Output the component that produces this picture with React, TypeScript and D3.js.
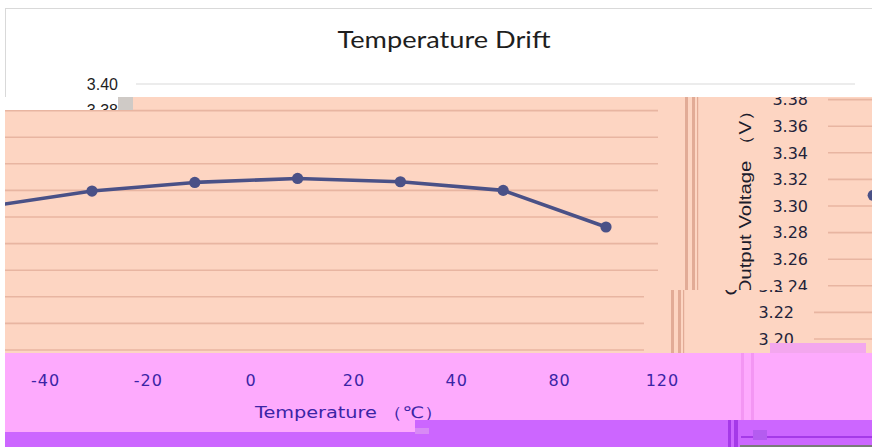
import * as d3 from 'd3';

// series
const temps = [-50, -30, -10, 10, 30, 50, 70];
const volts = [3.308, 3.3195, 3.326, 3.329, 3.3265, 3.32, 3.2925];
const voltTicks = [3.2, 3.22, 3.24, 3.26, 3.28, 3.3, 3.32, 3.34, 3.36, 3.38, 3.4];
const tempTicks = [-40, -20, 0, 20, 40, 60, 80];
const tempLabels = ['-40', '-20', '0', '20', '40', '80', '120'];

const W = 872;
const H = 447;
const SALMON = '#fdd5c2';
const GRID = '#e8b5a1';
const LINE = '#4a5187';
const PINK = '#fdaafd';
const PURPLE = '#cc66ff';
const AXIS_TXT = '#3b24a6';

const x = d3.scaleLinear().domain([-30, 70]).range([92, 606]);
const y = d3.scaleLinear().domain([3.2, 3.4]).range([350, 84]);

const line = d3
  .line<number>()
  .x((_, i) => x(temps[i]))
  .y((v) => y(v));

function Series({ dx = 0, dy = 0 }: { dx?: number; dy?: number }) {
  return (
    <g transform={`translate(${dx},${dy})`}>
      <path d={line(volts) || ''} fill="none" stroke={LINE} strokeWidth={3.6} strokeLinejoin="round" />
      {volts.map((v, i) => (
        <circle key={i} cx={x(temps[i])} cy={y(v)} r={5.6} fill={LINE} />
      ))}
    </g>
  );
}

// everything that sits on the salmon block
function SalmonScene() {
  const rightShiftX = 690;
  const rightShiftY = -11;
  return (
    <g>
      <rect x={-20} y={90} width={W + 40} height={270} fill={SALMON} />
      {voltTicks.map((v) => (
        <line key={v} x1={-20} x2={658} y1={y(v)} y2={y(v)} stroke={GRID} strokeWidth={1.6} />
      ))}
      <rect x={685} y={90} width={3} height={270} fill="#e2ab96" />
      <rect x={692} y={90} width={3} height={270} fill="#e2ab96" />
      <rect x={697} y={90} width={1.2} height={270} fill="#e2ab96" />
      <Series />
      <g transform={`translate(${rightShiftX},${rightShiftY})`}>
        {voltTicks.map((v) => (
          <g key={v}>
            <line x1={138} x2={W} y1={y(v)} y2={y(v)} stroke={GRID} strokeWidth={1.6} />
            <text
              x={118}
              y={y(v)}
              dy="0.36em"
              textAnchor="end"
              fontFamily="DejaVu Sans"
              fontSize={16}
              fill="#23233a"
            >
              {v.toFixed(2)}
            </text>
          </g>
        ))}
      </g>
      <Series dx={884} dy={rightShiftY} />
      <text
        transform="translate(751,198) rotate(-90)"
        textAnchor="middle"
        fontFamily="Liberation Sans"
        fontSize={16}
        textLength={195}
        lengthAdjust="spacingAndGlyphs"
        fill="#1c1c2c"
      >
        Output Voltage （V）
      </text>
    </g>
  );
}

export default function App() {
  return (
    <div style={{ position: 'fixed', left: 0, top: 0, width: W, height: H }}>
      <svg width={W} height={H} style={{ display: 'block' }}>
        <defs>
          <clipPath id="topPart">
            <rect x={5} y={97} width={W - 5} height={193} />
          </clipPath>
          <clipPath id="bottomPart">
            <rect x={5} y={290} width={W - 5} height={63} />
          </clipPath>
          <clipPath id="whiteLabels">
            <rect x={0} y={0} width={W} height={110} />
          </clipPath>
        </defs>
        <rect width={W} height={H} fill="#fff" />
        <rect x={5.5} y={8.5} width={W} height={H} fill="none" stroke="#d9d9d9" />
        <text
          x={444}
          y={48}
          textAnchor="middle"
          fontFamily="Lato"
          fontSize={23}
          textLength={213}
          lengthAdjust="spacingAndGlyphs"
          fill="#1e1e1e"
        >
          Temperature Drift
        </text>
        <line x1={136} x2={855} y1={y(3.4)} y2={y(3.4)} stroke="#d9d9d9" strokeWidth={1.2} />

        {/* glitched salmon block: upper strip in place, lower strip shifted left */}
        <g clipPath="url(#topPart)">
          <SalmonScene />
        </g>
        <g clipPath="url(#bottomPart)">
          <g transform="translate(-14,0)">
            <SalmonScene />
          </g>
        </g>
        <rect x={5} y={97} width={113} height={13} fill="#fff" />
        <rect x={118} y={97} width={15} height={13} fill="#cfcac6" />
        <g clipPath="url(#whiteLabels)">
          {voltTicks.map((v) => (
            <text
              key={v}
              x={118}
              y={y(v)}
              dy="0.36em"
              textAnchor="end"
              fontFamily="Liberation Sans"
              fontSize={16}
              fill="#1e1e1e"
            >
              {v.toFixed(2)}
            </text>
          ))}
        </g>
        <rect x={770} y={343} width={96} height={10} fill="#f3a7ee" />

        {/* pink x-axis strip */}
        <rect x={5} y={353} width={W - 5} height={H - 353} fill={PINK} />
        {tempTicks.map((t, i) => (
          <text
            key={t}
            x={x(t) + 5}
            y={386}
            textAnchor="middle"
            fontFamily="DejaVu Sans"
            fontSize={16}
            letterSpacing={1}
            fill={AXIS_TXT}
          >
            {tempLabels[i]}
          </text>
        ))}
        <text
          x={349}
          y={418}
          textAnchor="middle"
          fontFamily="DejaVu Sans"
          fontSize={16}
          textLength={188}
          lengthAdjust="spacingAndGlyphs"
          fill={AXIS_TXT}
        >
          Temperature （℃）
        </text>
        <rect x={741} y={353} width={3} height={67} fill="#f396f3" />
        <rect x={751} y={353} width={3} height={67} fill="#f396f3" />

        {/* purple bottom strip */}
        <rect x={5} y={432} width={410} height={15} fill={PURPLE} />
        <rect x={415} y={420} width={W - 415} height={27} fill={PURPLE} />
        <rect x={415} y={428} width={14} height={6} fill="#d88af5" />
        <rect x={728} y={420} width={3} height={27} fill="#a53ae8" />
        <rect x={734} y={420} width={4} height={27} fill="#a53ae8" />
        <rect x={741} y={436} width={W - 741} height={2} fill="#a53ae8" />
        <rect x={753} y={430} width={14} height={10} fill="#b45cf0" />
        <rect x={740} y={445} width={W - 740} height={2} fill="#7a7a7a" />
      </svg>
    </div>
  );
}
